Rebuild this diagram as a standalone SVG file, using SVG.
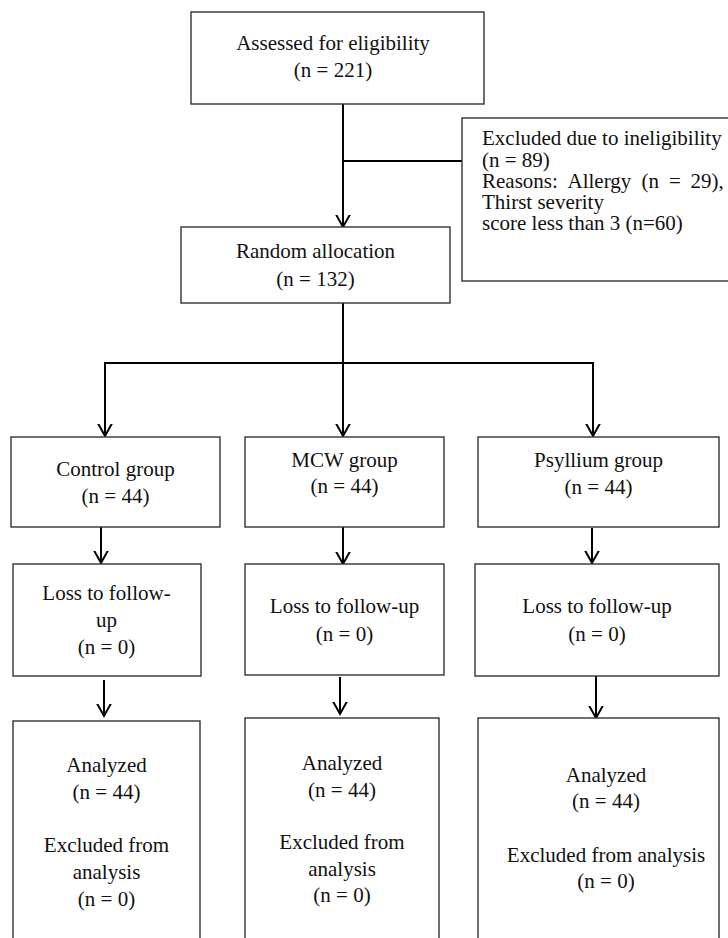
<svg xmlns="http://www.w3.org/2000/svg" width="728" height="938" viewBox="0 0 728 938">
<style>
.box{fill:#fff;stroke:#333;stroke-width:1.4}
.t{font-family:"Liberation Serif","Times New Roman",serif;font-size:21px;fill:#111}
.c{text-anchor:middle}
.ln{fill:none;stroke:#000;stroke-width:2}
</style>
<defs>
<marker id="ah" markerUnits="userSpaceOnUse" markerWidth="24" markerHeight="24" viewBox="-12 -12 24 24" refX="0" refY="0" orient="auto">
<path d="M-18,-10 L0,0 L-18,10" fill="none" stroke="#000" stroke-width="2"/>
</marker>
</defs>
<rect width="728" height="938" fill="#fff"/>
<g id="connectors">
<line class="ln" x1="343" y1="104" x2="343" y2="227" marker-end="url(#ah)"/>
<line class="ln" x1="343" y1="161" x2="462" y2="161"/>
<line class="ln" x1="343" y1="303" x2="343" y2="436" marker-end="url(#ah)"/>
<line class="ln" x1="104" y1="363" x2="594" y2="363"/>
<line class="ln" x1="105" y1="363" x2="105" y2="436" marker-end="url(#ah)"/>
<line class="ln" x1="593" y1="363" x2="593" y2="436" marker-end="url(#ah)"/>
<line class="ln" x1="101" y1="527" x2="101" y2="563" marker-end="url(#ah)"/>
<line class="ln" x1="343" y1="527" x2="343" y2="564" marker-end="url(#ah)"/>
<line class="ln" x1="592" y1="528" x2="592" y2="563" marker-end="url(#ah)"/>
<line class="ln" x1="104" y1="680" x2="104" y2="716" marker-end="url(#ah)"/>
<line class="ln" x1="340" y1="677" x2="340" y2="714" marker-end="url(#ah)"/>
<line class="ln" x1="596" y1="676" x2="596" y2="718" marker-end="url(#ah)"/>
</g>
<g id="assessed">
<rect class="box" x="191" y="12" width="293" height="92"/>
<text class="t c" x="333" y="50">Assessed for eligibility</text>
<text class="t c" x="333" y="77">(n = 221)</text>
</g>
<g id="excluded">
<rect class="box" x="462" y="118" width="280" height="163"/>
<text class="t" x="482" y="145">Excluded due to ineligibility</text>
<text class="t" x="482" y="167">(n = 89)</text>
<text class="t" y="188"><tspan x="482">Reasons:</tspan><tspan x="567.5">Allergy</tspan><tspan x="641.5">(n</tspan><tspan x="669">=</tspan><tspan x="690.5">29),</tspan></text>
<text class="t" x="482" y="209">Thirst severity</text>
<text class="t" x="482" y="230">score less than 3 (n=60)</text>
</g>
<g id="random">
<rect class="box" x="181" y="227" width="269" height="76"/>
<text class="t c" x="315.5" y="258">Random allocation</text>
<text class="t c" x="315.5" y="286">(n = 132)</text>
</g>
<g id="control">
<rect class="box" x="11" y="437" width="209" height="90"/>
<text class="t c" x="115.5" y="476">Control group</text>
<text class="t c" x="115.5" y="503">(n = 44)</text>
</g>
<g id="mcw">
<rect class="box" x="245" y="437" width="199" height="90"/>
<text class="t c" x="344.5" y="467">MCW group</text>
<text class="t c" x="344.5" y="493">(n = 44)</text>
</g>
<g id="psyllium">
<rect class="box" x="478" y="437" width="241" height="90"/>
<text class="t c" x="598.5" y="467">Psyllium group</text>
<text class="t c" x="598.5" y="494">(n = 44)</text>
</g>
<g id="loss-control">
<rect class="box" x="13" y="564" width="188" height="112"/>
<text class="t c" x="106.5" y="600">Loss to follow-</text>
<text class="t c" x="106.5" y="627">up</text>
<text class="t c" x="106.5" y="654">(n = 0)</text>
</g>
<g id="loss-mcw">
<rect class="box" x="245" y="564" width="199" height="111"/>
<text class="t c" x="344.5" y="613">Loss to follow-up</text>
<text class="t c" x="344.5" y="641">(n = 0)</text>
</g>
<g id="loss-psyllium">
<rect class="box" x="475" y="564" width="244" height="112"/>
<text class="t c" x="597" y="613">Loss to follow-up</text>
<text class="t c" x="597" y="641">(n = 0)</text>
</g>
<g id="analyzed-control">
<rect class="box" x="13" y="721" width="187" height="240"/>
<text class="t c" x="106.5" y="772">Analyzed</text>
<text class="t c" x="106.5" y="799">(n = 44)</text>
<text class="t c" x="106.5" y="852">Excluded from</text>
<text class="t c" x="106.5" y="879">analysis</text>
<text class="t c" x="106.5" y="906">(n = 0)</text>
</g>
<g id="analyzed-mcw">
<rect class="box" x="245" y="718" width="194" height="240"/>
<text class="t c" x="342" y="770">Analyzed</text>
<text class="t c" x="342" y="797">(n = 44)</text>
<text class="t c" x="342" y="849">Excluded from</text>
<text class="t c" x="342" y="876">analysis</text>
<text class="t c" x="342" y="902">(n = 0)</text>
</g>
<g id="analyzed-psyllium">
<rect class="box" x="478" y="718" width="241" height="240"/>
<text class="t c" x="606" y="782">Analyzed</text>
<text class="t c" x="606" y="808">(n = 44)</text>
<text class="t c" x="606" y="862">Excluded from analysis</text>
<text class="t c" x="606" y="888">(n = 0)</text>
</g>
</svg>
